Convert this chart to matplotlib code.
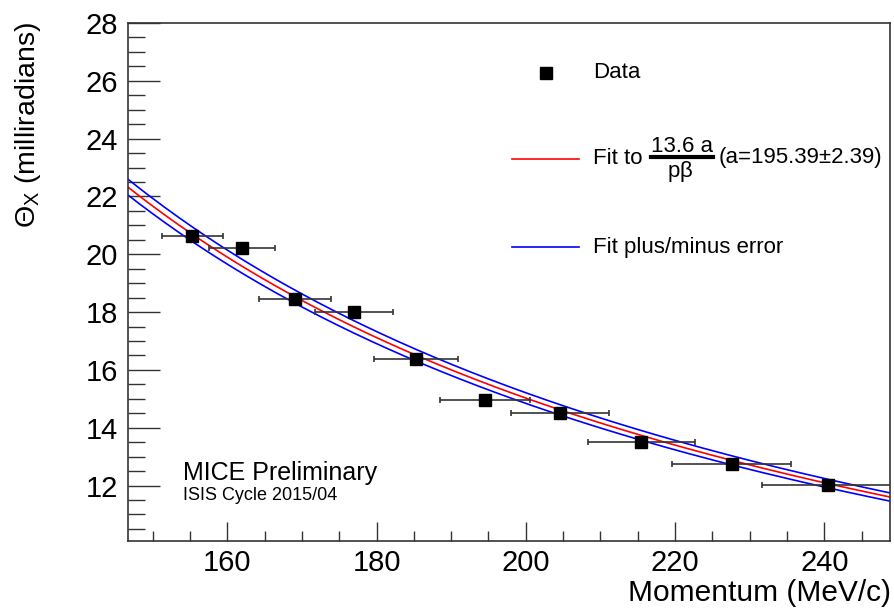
import numpy as np
import matplotlib
matplotlib.use("Agg")
import matplotlib.pyplot as plt
from matplotlib.lines import Line2D

plt.rcParams['font.family'] = ['Liberation Sans', 'DejaVu Sans']
plt.rcParams['mathtext.fontset'] = 'custom'
plt.rcParams['mathtext.rm'] = 'Liberation Sans'
plt.rcParams['mathtext.it'] = 'Liberation Sans'

# measured scattering width vs momentum
momentum = [155.3, 162.0, 169.1, 177.0, 185.3, 194.5, 204.6, 215.5, 227.6, 240.5]
theta_x = [20.62, 20.22, 18.47, 18.00, 16.39, 14.97, 14.50, 13.50, 12.74, 12.03]
momentum_err = [4.1, 4.4, 4.8, 5.2, 5.6, 6.05, 6.6, 7.2, 7.95, 8.9]

fit_a = 195.39
fit_a_err = 2.39
m_mu = 105.66

W, H = 894, 609
fig = plt.figure(figsize=(W / 100, H / 100), dpi=100)
ax = fig.add_axes([128 / W, 1 - 540.5 / H, (890 - 128) / W, (540.5 - 23) / H])


def px(x, y):
    return x / W, 1 - y / H


def theta(p, a):
    e = np.sqrt(p ** 2 + m_mu ** 2)
    return 13.6 * a / (p * p / e)


p = np.linspace(146.7, 248.8, 400)
ax.plot(p, theta(p, fit_a + fit_a_err), color='blue', lw=1.2)
ax.plot(p, theta(p, fit_a - fit_a_err), color='blue', lw=1.2)
ax.plot(p, theta(p, fit_a), color='red', lw=1.2)

ax.errorbar(momentum, theta_x, xerr=momentum_err, fmt='none', ecolor='#333333',
            elinewidth=1.2, capsize=2.5, capthick=1.2)
ax.plot(momentum, theta_x, 's', color='black', ms=8, zorder=5)

ax.set_xlim(146.7, 248.8)
ax.set_ylim(10.1, 28)
ax.set_xticks([160, 180, 200, 220, 240])
ax.set_xticks(np.arange(150, 250, 5), minor=True)
ax.set_yticks(np.arange(12, 29, 2))
ax.set_yticks(np.arange(10.5, 28, 0.5), minor=True)
ax.tick_params(axis='both', which='both', direction='in', colors='#333333',
               labelcolor='black', labelsize=21, width=1)
ax.tick_params(axis='x', which='major', length=14, pad=6)
ax.tick_params(axis='x', which='minor', length=7)
ax.tick_params(axis='y', which='major', length=23, pad=7)
ax.tick_params(axis='y', which='minor', length=12)
for s in ax.spines.values():
    s.set_color('#333333')
    s.set_linewidth(1.2)

fig.text(*px(891, 601), 'Momentum (MeV/c)', ha='right', va='baseline', fontsize=21.5)
fig.text(*px(28, 22), r'$\Theta_{\mathrm{X}}$ (milliradians)', rotation=90,
         ha='center', va='top', fontsize=20.5)

# legend
fig.add_artist(Line2D([546 / W], [1 - 73 / H], marker='s', color='black', ms=9,
                      transform=fig.transFigure))
fig.text(*px(593, 73), 'Data', ha='left', va='center', fontsize=16)
fig.add_artist(Line2D([512 / W, 579 / W], [1 - 159 / H] * 2, color='red', lw=1.2,
                      transform=fig.transFigure))
fig.text(*px(593, 159), 'Fit to', ha='left', va='center', fontsize=16)
fig.text(*px(682, 147), '13.6 a', ha='center', va='center', fontsize=16)
fig.add_artist(Line2D([651 / W, 713 / W], [1 - 157 / H] * 2, color='black', lw=3,
                      transform=fig.transFigure))
fig.text(*px(680, 172), r'p$\beta$', ha='center', va='center', fontsize=16)
fig.text(*px(719, 157), '(a=195.39±2.39)', ha='left', va='center', fontsize=16)
fig.add_artist(Line2D([512 / W, 579 / W], [1 - 247 / H] * 2, color='blue', lw=1.2,
                      transform=fig.transFigure))
fig.text(*px(593, 247), 'Fit plus/minus error', ha='left', va='center', fontsize=16)

fig.text(*px(183, 473), 'MICE Preliminary', ha='left', va='center', fontsize=18)
fig.text(*px(183, 495), 'ISIS Cycle 2015/04', ha='left', va='center', fontsize=13)

fig.savefig('out.png', dpi=100)
